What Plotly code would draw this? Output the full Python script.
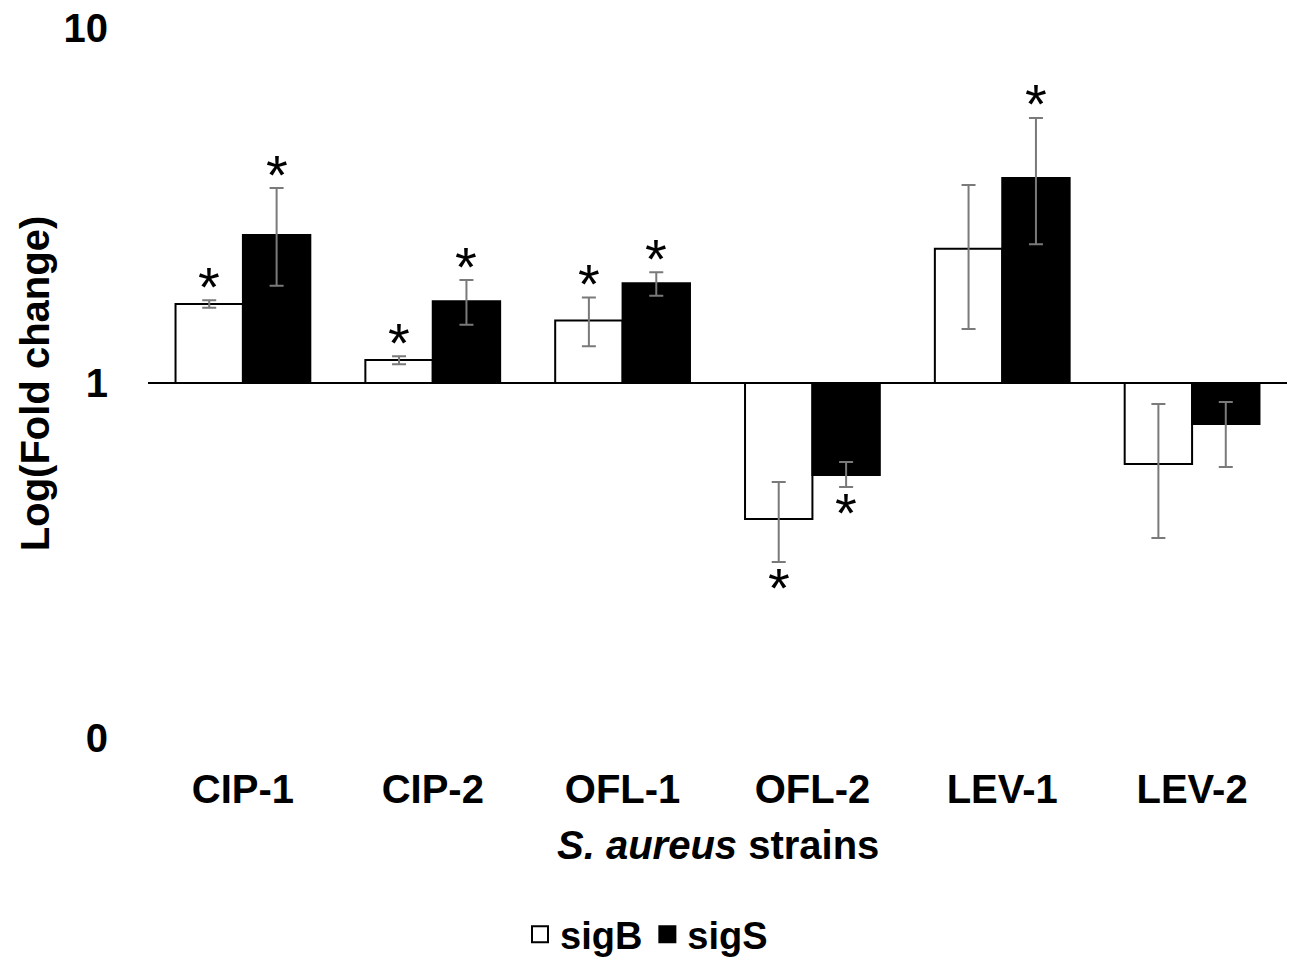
import math
import plotly.graph_objects as go

categories = ["CIP-1", "CIP-2", "OFL-1", "OFL-2", "LEV-1", "LEV-2"]
sigB = [1.67, 1.16, 1.50, 0.414, 2.39, 0.591]
sigB_hi = [1.71, 1.19, 1.74, 0.526, 3.61, 0.873]
sigB_lo = [1.63, 1.13, 1.27, 0.313, 1.42, 0.366]
sigS = [2.61, 1.70, 1.91, 0.551, 3.78, 0.766]
sigS_hi = [3.54, 1.95, 2.05, 0.599, 5.58, 0.884]
sigS_lo = [1.88, 1.46, 1.76, 0.509, 2.46, 0.580]
sigB_star = [True, True, True, True, False, False]
sigS_star = [True, True, True, True, True, False]
ytick_vals = [0.1, 1, 10]
ytick_text = ["0", "1", "10"]

FONT = "Liberation Sans, Arial, sans-serif"
BW = 0.355
idx = list(range(len(categories)))
xB = [i - BW / 2 for i in idx]
xS = [i + BW / 2 for i in idx]

fig = go.Figure()
for xs, vals, fill, name in [(xB, sigB, "white", "sigB"), (xS, sigS, "black", "sigS")]:
    fig.add_trace(go.Bar(
        x=xs, y=[v - 1 for v in vals], base=[1] * len(vals), width=BW,
        marker=dict(color=fill, line=dict(color="black", width=2)),
        showlegend=False, name=name,
    ))

for xs, vals, hi, lo in [(xB, sigB, sigB_hi, sigB_lo), (xS, sigS, sigS_hi, sigS_lo)]:
    fig.add_trace(go.Scatter(
        x=xs, y=vals, mode="markers", marker=dict(size=1, opacity=0),
        error_y=dict(type="data", symmetric=False,
                     array=[h - v for h, v in zip(hi, vals)],
                     arrayminus=[v - l for v, l in zip(vals, lo)],
                     color="#7a7a7a", thickness=2, width=7),
        showlegend=False, hoverinfo="skip",
    ))

# legend entries
fig.add_trace(go.Scatter(x=[None], y=[None], mode="markers", name="<b>sigB</b>",
                         marker=dict(symbol="square", size=20, color="white",
                                     line=dict(color="black", width=2))))
fig.add_trace(go.Scatter(x=[None], y=[None], mode="markers", name="<b>sigS</b>",
                         marker=dict(symbol="square", size=20, color="black",
                                     line=dict(color="black", width=2))))

annotations = []
for xs, vals, hi, lo, stars in [(xB, sigB, sigB_hi, sigB_lo, sigB_star),
                                (xS, sigS, sigS_hi, sigS_lo, sigS_star)]:
    for x, v, h, l, s in zip(xs, vals, hi, lo, stars):
        if not s:
            continue
        if v >= 1:
            annotations.append(dict(x=x, y=math.log10(h), xref="x", yref="y",
                                    text="*", showarrow=False, yanchor="middle",
                                    yshift=14, font=dict(size=56, family=FONT, color="black")))
        else:
            annotations.append(dict(x=x, y=math.log10(l), xref="x", yref="y",
                                    text="*", showarrow=False, yanchor="middle",
                                    yshift=-25, font=dict(size=56, family=FONT, color="black")))

annotations.append(dict(text="<b>Log(Fold change)</b>", textangle=-90, xref="paper", yref="paper",
                        x=-0.099, y=0.5, xanchor="center", yanchor="middle", showarrow=False,
                        font=dict(size=40, family=FONT, color="black")))
annotations.append(dict(text="<b><i>S. aureus</i> strains</b>", xref="paper", yref="paper",
                        x=0.5, y=-0.151, xanchor="center", yanchor="middle", showarrow=False,
                        font=dict(size=40, family=FONT, color="black")))

fig.add_shape(type="line", xref="paper", yref="y", x0=0, x1=1, y0=1, y1=1,
              line=dict(color="black", width=2))

fig.update_layout(
    width=1293, height=966,
    margin=dict(l=148, r=6, t=28, b=228, autoexpand=False),
    plot_bgcolor="white", paper_bgcolor="white",
    font=dict(family=FONT, size=40, color="black"),
    barmode="overlay",
    annotations=annotations,
    showlegend=True,
    legend=dict(orientation="h", xref="container", yref="container", x=0.5, y=0.0,
                xanchor="center", yanchor="bottom",
                font=dict(size=38, family=FONT, color="black"),
                itemwidth=30, tracegroupgap=0),
)
fig.update_xaxes(range=[-0.5, 5.5], tickvals=idx, ticktext=[f"<b>{c}</b>" for c in categories],
                 showgrid=False, zeroline=False, showline=False, automargin=False,
                 ticks="outside", ticklen=16, tickcolor="rgba(0,0,0,0)",
                 tickfont=dict(size=40, family=FONT, color="black"))
fig.update_yaxes(type="log", range=[-1, 1], tickvals=ytick_vals,
                 ticktext=[f"<b>{t}</b>" for t in ytick_text],
                 showgrid=False, zeroline=False, showline=False, automargin=False,
                 ticks="outside", ticklen=31, tickcolor="rgba(0,0,0,0)",
                 tickfont=dict(size=40, family=FONT, color="black"))

fig.write_html("out.html", config={"displayModeBar": False},
               post_script="document.body.style.margin='0px';")
